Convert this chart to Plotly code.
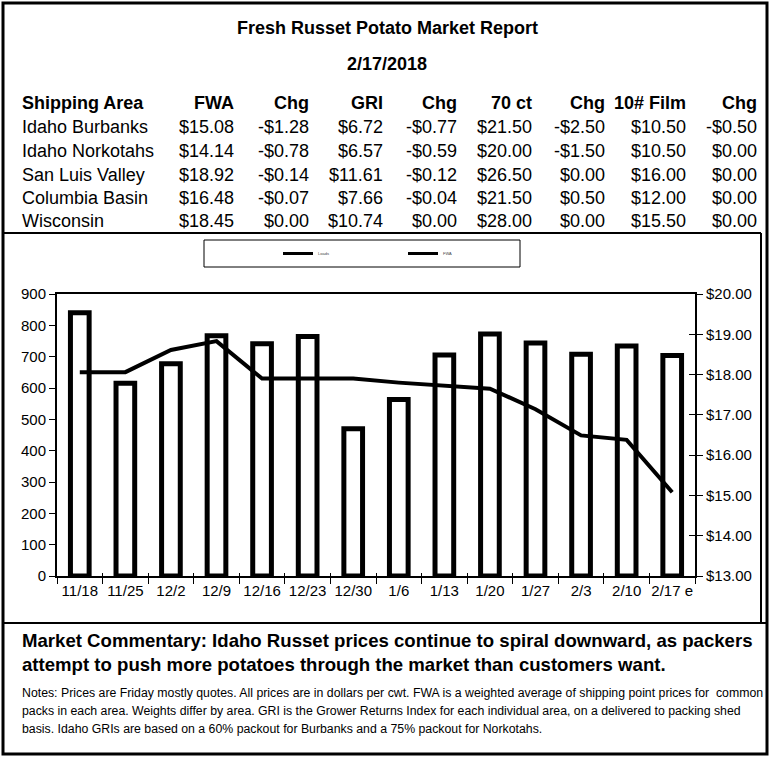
import plotly.graph_objects as go

W, H = 774, 757

# ---------------- data ----------------
report_title = "Fresh Russet Potato Market Report"
report_date = "2/17/2018"
headers = ["Shipping Area", "FWA", "Chg", "GRI", "Chg", "70 ct", "Chg", "10# Film", "Chg"]
areas = ["Idaho Burbanks", "Idaho Norkotahs", "San Luis Valley", "Columbia Basin", "Wisconsin"]
fwa = ["$15.08", "$14.14", "$18.92", "$16.48", "$18.45"]
fwa_chg = ["-$1.28", "-$0.78", "-$0.14", "-$0.07", "$0.00"]
gri = ["$6.72", "$6.57", "$11.61", "$7.66", "$10.74"]
gri_chg = ["-$0.77", "-$0.59", "-$0.12", "-$0.04", "$0.00"]
ct70 = ["$21.50", "$20.00", "$26.50", "$21.50", "$28.00"]
ct70_chg = ["-$2.50", "-$1.50", "$0.00", "$0.50", "$0.00"]
film10 = ["$10.50", "$10.50", "$16.00", "$12.00", "$15.50"]
film10_chg = ["-$0.50", "$0.00", "$0.00", "$0.00", "$0.00"]

weeks = ["11/18", "11/25", "12/2", "12/9", "12/16", "12/23", "12/30",
         "1/6", "1/13", "1/20", "1/27", "2/3", "2/10", "2/17 e"]
loads = [840, 615, 677, 767, 741, 764, 470, 563, 705, 772, 744, 708, 734, 704]
fwa_price = [18.06, 18.06, 18.61, 18.83, 17.90, 17.90, 17.90,
             17.80, 17.73, 17.65, 17.14, 16.49, 16.38, 15.08]
legend_names = ["Loads", "FWA"]

commentary = ["Market Commentary: Idaho Russet prices continue to spiral downward, as packers",
              "attempt to push more potatoes through the market than customers want."]
notes = ["Notes: Prices are Friday mostly quotes. All prices are in dollars per cwt. FWA is a weighted average of shipping point prices for  common",
         "packs in each area. Weights differ by area. GRI is the Grower Returns Index for each individual area, on a delivered to packing shed",
         "basis. Idaho GRIs are based on a 60% packout for Burbanks and a 75% packout for Norkotahs."]

# ---------------- helpers ----------------
FONT = "Liberation Sans, Arial, sans-serif"


def px(x):
    return x / W


def py(y):
    return 1 - y / H


fig = go.Figure()

fig.add_trace(go.Bar(
    x=weeks, y=loads, xaxis="x", yaxis="y", name=legend_names[0],
    marker=dict(color="white", line=dict(color="black", width=5)),
    showlegend=False, width=0.41,
))
fig.add_trace(go.Scatter(
    x=weeks, y=fwa_price, xaxis="x", yaxis="y2", mode="lines", name=legend_names[1],
    line=dict(color="black", width=4), showlegend=False,
))
# legend entries (both drawn as lines, as in the original); placed on the tick-only overlay axes
for nm in legend_names:
    fig.add_trace(go.Scatter(x=[None], y=[None], xaxis="x2", yaxis="y3", mode="lines", name=nm,
                             line=dict(color="black", width=3), showlegend=True))

annotations = []
annotations.append(dict(text="<b>%s</b>" % report_title, x=px(387), y=py(28), xref="paper", yref="paper",
                        showarrow=False, font=dict(size=18, family=FONT, color="black"), xanchor="center", yanchor="middle"))
annotations.append(dict(text="<b>%s</b>" % report_date, x=px(387), y=py(64), xref="paper", yref="paper",
                        showarrow=False, font=dict(size=18, family=FONT, color="black"), xanchor="center", yanchor="middle"))

col_right = [None, 236, 311, 385, 459, 534, 607, 688, 759]
row_y_header = 103
row_y = [127, 151, 174.5, 198, 221.5]
columns = [areas, fwa, fwa_chg, gri, gri_chg, ct70, ct70_chg, film10, film10_chg]


def cell(text, x, y, anchor, size=18):
    return dict(text=text, x=px(x), y=py(y), xref="paper", yref="paper", showarrow=False,
                font=dict(size=size, family=FONT, color="black"), xanchor=anchor, yanchor="middle")


for ci, hdr in enumerate(headers):
    xpos = 20 if ci == 0 else col_right[ci]
    anchor = "left" if ci == 0 else "right"
    annotations.append(cell("<b>%s</b>" % hdr, xpos, row_y_header, anchor))
    for ri, val in enumerate(columns[ci]):
        annotations.append(cell(val, xpos, row_y[ri], anchor))

for i, line in enumerate(commentary):
    annotations.append(cell("<b>%s</b>" % line, 20, 640 + 24 * i, "left", 18.6))
for i, line in enumerate(notes):
    annotations.append(cell(line, 20, 693 + 18 * i, "left", 12.3))

shapes = [
    dict(type="rect", xref="paper", yref="paper", x0=px(3), x1=px(767), y0=py(3), y1=py(754),
         line=dict(color="black", width=3)),
    dict(type="line", xref="paper", yref="paper", x0=px(3), x1=px(761), y0=py(233), y1=py(233),
         line=dict(color="black", width=2)),
    dict(type="line", xref="paper", yref="paper", x0=px(761), x1=px(761), y0=py(233), y1=py(623),
         line=dict(color="black", width=2)),
    dict(type="line", xref="paper", yref="paper", x0=px(3), x1=px(767), y0=py(623), y1=py(623),
         line=dict(color="black", width=2)),
    dict(type="rect", xref="paper", yref="paper", x0=px(204), x1=px(520), y0=py(240), y1=py(267),
         line=dict(color="black", width=1)),
]

XDOM = [px(57), px(695)]
YDOM = [py(576), py(294)]

fig.update_layout(
    width=W, height=H, autosize=False,
    margin=dict(l=0, r=0, t=0, b=0, pad=0),
    paper_bgcolor="white", plot_bgcolor="white",
    font=dict(family=FONT, color="black", size=15),
    annotations=annotations, shapes=shapes,
    showlegend=True,
    legend=dict(orientation="h", x=px(278), y=py(253.5), xanchor="left", yanchor="middle",
                bgcolor="rgba(0,0,0,0)", borderwidth=0, itemwidth=30,
                entrywidth=80, entrywidthmode="pixels",
                font=dict(size=4, color="#444"), itemclick=False),
    xaxis=dict(domain=XDOM, type="category", range=[-0.5, 13.5],
               showline=True, linecolor="black", linewidth=2, mirror=True,
               ticks="outside", tickson="boundaries", ticklen=6, tickcolor="black", tickwidth=1,
               tickangle=0, automargin=False,
               showgrid=False, tickfont=dict(size=15, family=FONT), fixedrange=True),
    # tick-only overlay so the category ticks also cross the axis line
    xaxis2=dict(overlaying="x", anchor="y", domain=XDOM, type="linear", range=[-0.5, 13.5],
                tickmode="linear", tick0=-0.5, dtick=1, ticks="inside", ticklen=3,
                tickcolor="black", tickwidth=1, showticklabels=False, showline=False,
                showgrid=False, zeroline=False, automargin=False, fixedrange=True),
    yaxis=dict(domain=YDOM, range=[0, 900], dtick=100,
               showline=True, linecolor="black", linewidth=2, automargin=False,
               ticks="outside", ticklen=6, tickcolor="black", tickwidth=1,
               showgrid=False, zeroline=False, tickfont=dict(size=15, family=FONT), fixedrange=True),
    yaxis2=dict(overlaying="y", side="right", range=[13, 20], dtick=1, tickformat="$.2f",
                showline=True, linecolor="black", linewidth=2, automargin=False,
                ticks="outside", ticklen=6, tickcolor="black", tickwidth=1,
                showgrid=False, zeroline=False, tickfont=dict(size=15, family=FONT), fixedrange=True),
    yaxis3=dict(overlaying="y", side="right", anchor="x2", range=[13, 20], dtick=1,
                ticks="inside", ticklen=6, tickcolor="black", tickwidth=1,
                showticklabels=False, showline=False, showgrid=False, zeroline=False,
                automargin=False, fixedrange=True),
)

post = (
    "var s=document.createElement('style');"
    "s.innerHTML='html,body{margin:0!important;padding:0!important;overflow:hidden!important;}"
    "body>div{line-height:0;font-size:0;margin:0;padding:0;}';"
    "document.head.appendChild(s);"
)

fig.write_html("out.html", config={"displayModeBar": False}, post_script=post)
